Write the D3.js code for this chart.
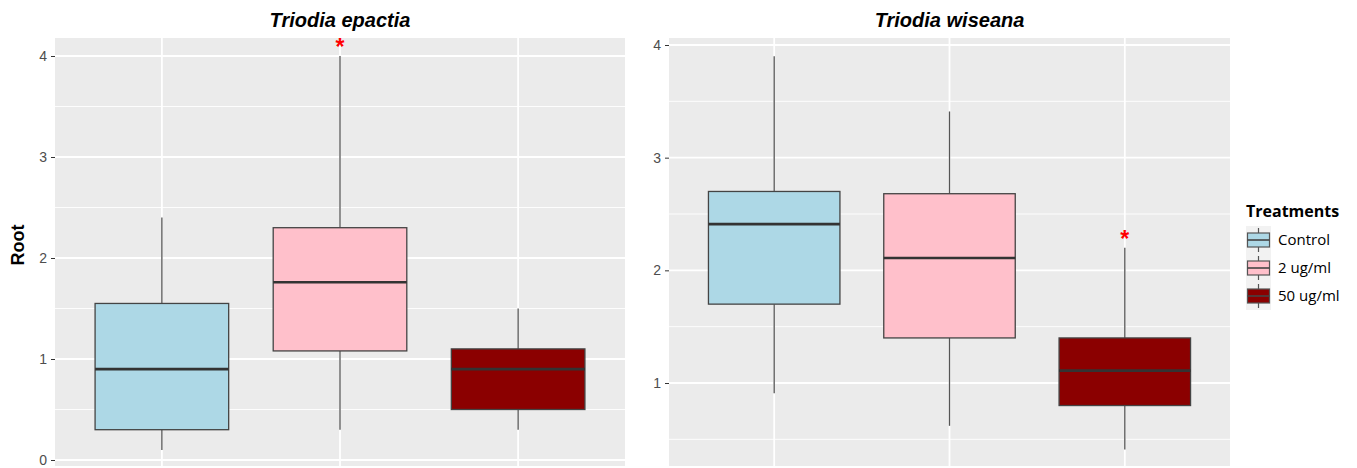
<!DOCTYPE html>
<html>
<head>
<meta charset="utf-8">
<script src="https://cdn.jsdelivr.net/npm/d3@7"></script>
<style>
  body { margin: 0; background: #fff; }
  svg { display: block; font-family: "Liberation Sans", Arial, sans-serif; }
</style>
</head>
<body>
<svg id="chart" width="1357" height="468"></svg>
<script>
const treatments = ['Control', '2 ug/ml', '50 ug/ml'];
const colors = ['#ADD8E6', '#FFC0CB', '#8B0000'];

// [min, q1, median, q3, max] per treatment
const epactiaStats = [
  [0.1, 0.3, 0.9, 1.55, 2.4],
  [0.3, 1.08, 1.76, 2.3, 4.0],
  [0.3, 0.5, 0.9, 1.1, 1.5]
];
const wiseanaStats = [
  [0.91, 1.7, 2.41, 2.7, 3.9],
  [0.62, 1.4, 2.11, 2.68, 3.41],
  [0.41, 0.8, 1.11, 1.4, 2.2]
];
const epactiaTicks = [0, 1, 2, 3, 4];
const wiseanaTicks = [1, 2, 3, 4];
// which box gets a significance star
const epactiaStar = '2 ug/ml';
const wiseanaStar = '50 ug/ml';

const svg = d3.select('#chart');
const panelTop = 38, panelBottom = 466;

function panel(opts) {
  const g = svg.append('g');
  const x = d3.scalePoint().domain(treatments)
    .range([opts.left, opts.right]).padding(0.6);
  const y = d3.scaleLinear().domain(opts.domain).range(opts.range);
  const step = x.step();
  const boxW = step * 0.75;

  g.append('rect')
    .attr('x', opts.left).attr('y', panelTop)
    .attr('width', opts.right - opts.left)
    .attr('height', panelBottom - panelTop)
    .attr('fill', '#EBEBEB');

  // minor grid
  const lo = y.invert(panelBottom), hi = y.invert(panelTop);
  const minor = d3.range(Math.ceil(lo * 2) / 2, hi, 0.5).filter(v => v % 1 !== 0);
  g.selectAll('.minor').data(minor).join('line')
    .attr('x1', opts.left).attr('x2', opts.right)
    .attr('y1', d => y(d)).attr('y2', d => y(d))
    .attr('stroke', '#fff').attr('stroke-width', 0.9);
  g.selectAll('.major').data(opts.ticks).join('line')
    .attr('x1', opts.left).attr('x2', opts.right)
    .attr('y1', d => y(d)).attr('y2', d => y(d))
    .attr('stroke', '#fff').attr('stroke-width', 1.8);
  g.selectAll('.vgrid').data(treatments).join('line')
    .attr('x1', d => x(d)).attr('x2', d => x(d))
    .attr('y1', panelTop).attr('y2', panelBottom)
    .attr('stroke', '#fff').attr('stroke-width', 1.8);

  // y axis
  const axis = g.append('g')
    .attr('transform', `translate(${opts.left},0)`)
    .call(d3.axisLeft(y).tickValues(opts.ticks).tickSize(4).tickPadding(4).tickFormat(d3.format('d')));
  axis.select('.domain').remove();
  axis.selectAll('.tick line').attr('stroke', '#333');
  axis.selectAll('.tick text').attr('fill', '#4D4D4D')
    .attr('font-size', 14);

  // boxes
  const boxes = g.selectAll('.box').data(opts.stats).join('g');
  boxes.append('line')
    .attr('x1', (d, i) => x(treatments[i])).attr('x2', (d, i) => x(treatments[i]))
    .attr('y1', d => y(d[0])).attr('y2', d => y(d[1]))
    .attr('stroke', '#555').attr('stroke-width', 1.3);
  boxes.append('line')
    .attr('x1', (d, i) => x(treatments[i])).attr('x2', (d, i) => x(treatments[i]))
    .attr('y1', d => y(d[3])).attr('y2', d => y(d[4]))
    .attr('stroke', '#555').attr('stroke-width', 1.3);
  boxes.append('rect')
    .attr('x', (d, i) => x(treatments[i]) - boxW / 2)
    .attr('width', boxW)
    .attr('y', d => y(d[3]))
    .attr('height', d => y(d[1]) - y(d[3]))
    .attr('fill', (d, i) => colors[i])
    .attr('stroke', '#444').attr('stroke-width', 1.3);
  boxes.append('line')
    .attr('x1', (d, i) => x(treatments[i]) - boxW / 2)
    .attr('x2', (d, i) => x(treatments[i]) + boxW / 2)
    .attr('y1', d => y(d[2])).attr('y2', d => y(d[2]))
    .attr('stroke', '#333').attr('stroke-width', 2.6);

  // star above the max whisker
  const si = treatments.indexOf(opts.star);
  g.append('text')
    .attr('x', x(opts.star))
    .attr('y', y(opts.stats[si][4]) - 1)
    .attr('text-anchor', 'middle')
    .attr('fill', '#FF0000')
    .attr('font-size', 23).attr('font-weight', 'bold')
    .text('*');

  g.append('text')
    .attr('x', (opts.left + opts.right) / 2)
    .attr('y', 27)
    .attr('text-anchor', 'middle')
    .attr('font-size', 20).attr('font-weight', 'bold').attr('font-style', 'italic')
    .text(opts.title);
}

panel({
  left: 55, right: 625,
  domain: [0, 4], range: [460, 56],
  ticks: epactiaTicks, stats: epactiaStats,
  star: epactiaStar, title: 'Triodia epactia'
});
panel({
  left: 669, right: 1230,
  domain: [1, 4], range: [383, 45],
  ticks: wiseanaTicks, stats: wiseanaStats,
  star: wiseanaStar, title: 'Triodia wiseana'
});

// y label
svg.append('text')
  .attr('transform', 'translate(24,245) rotate(-90)')
  .attr('text-anchor', 'middle')
  .attr('font-size', 18).attr('font-weight', 'bold')
  .text('Root');

// legend
const leg = svg.append('g').attr('transform', 'translate(1246,0)');
leg.append('text')
  .attr('x', 0).attr('y', 217)
  .attr('font-size', 16).attr('font-weight', 'bold')
  .attr('font-family', '"Open Sans", sans-serif')
  .text('Treatments');
const ly = d3.scaleBand().domain(treatments).range([226, 310]);
const keys = leg.selectAll('.key').data(treatments).join('g')
  .attr('transform', d => `translate(0,${ly(d)})`);
keys.append('rect')
  .attr('x', 0).attr('y', 0).attr('width', 25).attr('height', ly.bandwidth())
  .attr('fill', '#F2F2F2');
keys.append('line')
  .attr('x1', 12.5).attr('x2', 12.5).attr('y1', 2).attr('y2', ly.bandwidth() - 2)
  .attr('stroke', '#555').attr('stroke-width', 1.2);
keys.append('rect')
  .attr('x', 1.5).attr('y', 7).attr('width', 22).attr('height', ly.bandwidth() - 14)
  .attr('fill', (d, i) => colors[i])
  .attr('stroke', '#555').attr('stroke-width', 1.2);
keys.append('line')
  .attr('x1', 1.5).attr('x2', 23.5)
  .attr('y1', ly.bandwidth() / 2).attr('y2', ly.bandwidth() / 2)
  .attr('stroke', '#444').attr('stroke-width', 1.6);
keys.append('text')
  .attr('x', 32).attr('y', ly.bandwidth() / 2 + 5)
  .attr('font-size', 15)
  .attr('font-family', '"Open Sans", sans-serif')
  .text(d => d);
</script>
</body>
</html>
